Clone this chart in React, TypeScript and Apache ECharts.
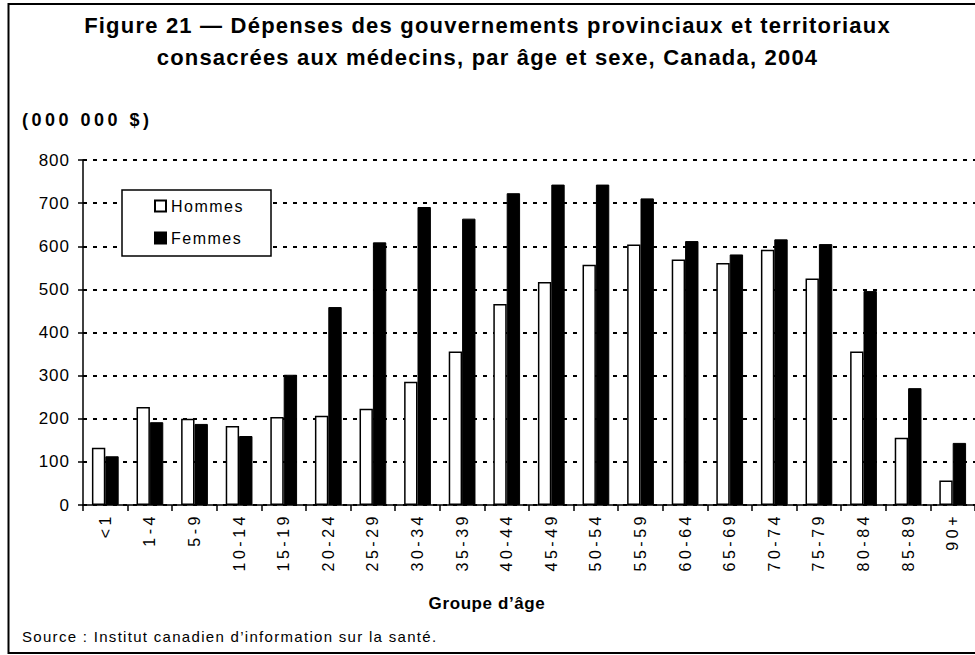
import React, { useEffect, useRef } from "react";
import * as echarts from "echarts";

const categories = ["<1", "1-4", "5-9", "10-14", "15-19", "20-24", "25-29", "30-34", "35-39", "40-44", "45-49", "50-54", "55-59", "60-64", "65-69", "70-74", "75-79", "80-84", "85-89", "90+"];
const hommes = [133, 227, 200, 183, 204, 207, 223, 286, 356, 466, 517, 557, 604, 569, 561, 592, 525, 356, 156, 57];
const femmes = [113, 192, 188, 160, 302, 459, 609, 691, 664, 723, 743, 743, 711, 612, 581, 616, 605, 496, 271, 144];
const yTicks = [0, 100, 200, 300, 400, 500, 600, 700, 800];

const titleText = "Figure 21 — Dépenses des gouvernements provinciaux et territoriaux\nconsacrées aux médecins, par âge et sexe, Canada, 2004";
const unitText = "(000 000 $)";
const xAxisTitle = "Groupe d’âge";
const sourceText = "Source : Institut canadien d’information sur la santé.";

// fake fallback names are used only as CSS hooks for letter spacing
const F_TITLE = "'Liberation Sans', fttl, sans-serif";
const F_UNIT = "'Liberation Sans', funit, sans-serif";
const F_Y = "'Liberation Sans', fyax, sans-serif";
const F_X = "'Liberation Sans', fxax, sans-serif";
const F_LEG = "'Liberation Sans', fleg, sans-serif";
const F_NAME = "'Liberation Sans', fname, sans-serif";
const F_SRC = "'Liberation Sans', fsrc, sans-serif";

const css = `
.chart-root text[style*="fttl"] { letter-spacing: 1.2px; }
.chart-root text[style*="funit"] { letter-spacing: 3.5px; }
.chart-root text[style*="fyax"] { letter-spacing: 1px; }
.chart-root text[style*="fxax"] { letter-spacing: 3.5px; }
.chart-root text[style*="fleg"] { letter-spacing: 1.5px; }
.chart-root text[style*="fname"] { letter-spacing: 0.6px; }
.chart-root text[style*="fsrc"] { letter-spacing: 1.3px; }
`;

export default function App() {
  const ref = useRef<HTMLDivElement>(null);
  useEffect(() => {
    if (!ref.current) return;
    const chart = echarts.init(ref.current, undefined, { renderer: "svg" });
    chart.setOption({
      animation: false,
      backgroundColor: "#ffffff",
      textStyle: { fontFamily: F_TITLE, color: "#000" },
      title: {
        text: titleText,
        left: "center",
        top: 9,
        padding: 0,
        textStyle: { fontSize: 22, fontWeight: "bold", lineHeight: 32, color: "#000", fontFamily: F_TITLE },
      },
      legend: {
        orient: "vertical",
        left: 122,
        top: 190,
        padding: [8, 36, 10, 32],
        itemWidth: 11,
        itemHeight: 11,
        itemGap: 16,
        backgroundColor: "#fff",
        borderColor: "#000",
        borderWidth: 1.5,
        borderRadius: 0,
        textStyle: { fontSize: 16, lineHeight: 16, color: "#000", fontFamily: F_LEG },
        data: [
          { name: "Hommes", icon: "rect" },
          { name: "Femmes", icon: "rect" },
        ],
      },
      grid: { left: 83, top: 160, width: 894, bottom: 150, containLabel: false },
      xAxis: {
        type: "category",
        data: categories,
        axisLine: { lineStyle: { color: "#000", width: 1.5 } },
        axisTick: { show: true, length: 6, lineStyle: { color: "#000", width: 1.5 } },
        axisLabel: { rotate: 90, fontSize: 16, margin: 8, color: "#000", fontFamily: F_X, interval: 0 },
      },
      yAxis: {
        type: "value",
        min: yTicks[0],
        max: yTicks[yTicks.length - 1],
        interval: 100,
        axisLine: { show: true, lineStyle: { color: "#000", width: 1.5 } },
        axisTick: { show: true, length: 5, lineStyle: { color: "#000", width: 1.5 } },
        axisLabel: { fontSize: 17, margin: 13, color: "#000", fontFamily: F_Y },
        splitLine: { show: true, lineStyle: { color: "#000", width: 2, type: [4, 6] } },
      },
      series: [
        {
          name: "Hommes",
          type: "bar",
          data: hommes,
          barGap: "0%",
          barCategoryGap: "40%",
          itemStyle: { color: "#fff", borderColor: "#000", borderWidth: 1.5 },
        },
        {
          name: "Femmes",
          type: "bar",
          data: femmes,
          itemStyle: { color: "#000", borderColor: "#000", borderWidth: 1 },
        },
      ],
      graphic: [
        {
          type: "rect",
          shape: { x: 8.5, y: 4, width: 990, height: 649 },
          style: { fill: "none", stroke: "#000", lineWidth: 2 },
          z: 100,
        },
        {
          type: "text",
          x: 22,
          y: 120,
          style: { text: unitText, fontSize: 18, fontWeight: "bold", fill: "#000", fontFamily: F_UNIT, verticalAlign: "middle" },
        },
        {
          type: "text",
          x: 487,
          y: 603,
          style: { text: xAxisTitle, fontSize: 17, fontWeight: "bold", fill: "#000", fontFamily: F_NAME, align: "center", verticalAlign: "middle" },
        },
        {
          type: "text",
          x: 22,
          y: 636,
          style: { text: sourceText, fontSize: 15, fill: "#000", fontFamily: F_SRC, verticalAlign: "middle" },
        },
      ],
    });
    return () => chart.dispose();
  }, []);
  return (
    <>
      <style>{css}</style>
      <div
        ref={ref}
        className="chart-root"
        style={{ position: "absolute", left: 0, top: 0, width: 975, height: 655 }}
      />
    </>
  );
}
